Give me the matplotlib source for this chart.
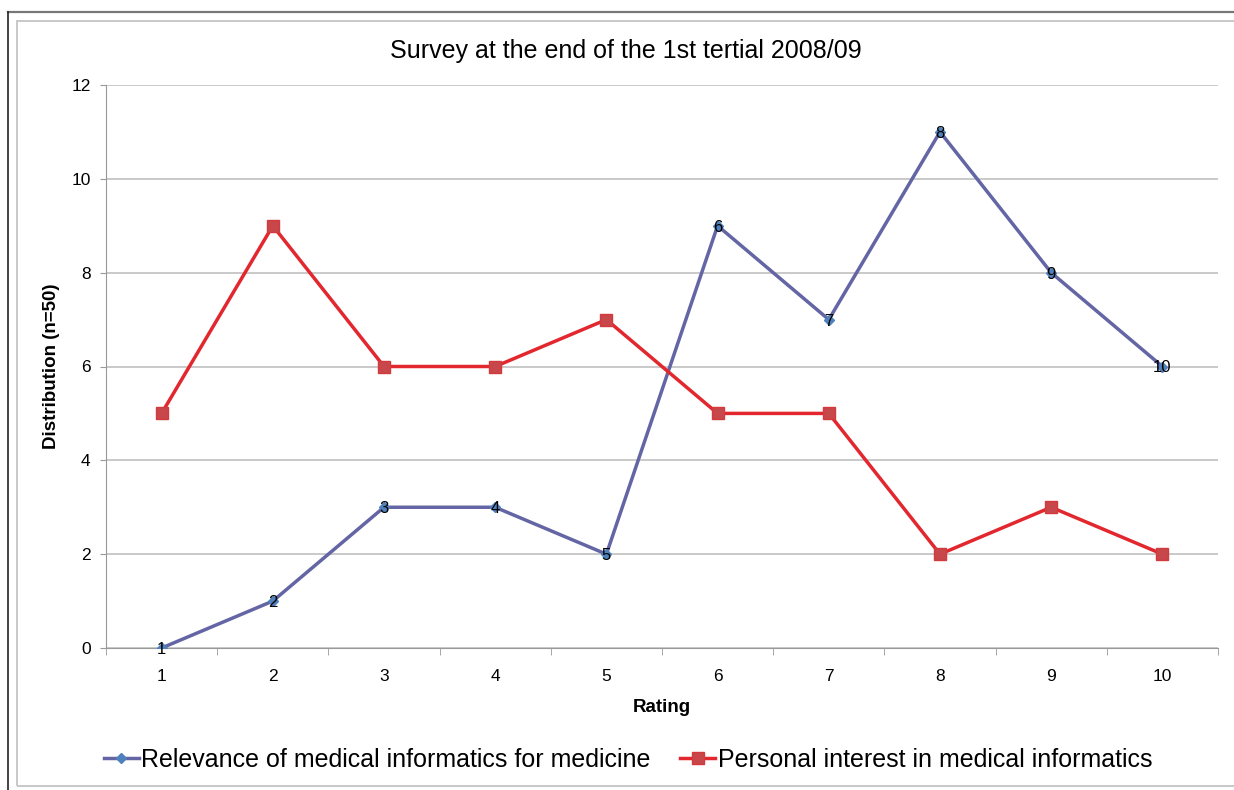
import matplotlib
matplotlib.use("Agg")
import matplotlib.pyplot as plt
from matplotlib.patches import Rectangle
from matplotlib.lines import Line2D

plt.rcParams['font.family'] = ['Liberation Sans', 'DejaVu Sans']

ratings = [1, 2, 3, 4, 5, 6, 7, 8, 9, 10]
relevance = [0, 1, 3, 3, 2, 9, 7, 11, 8, 6]
interest = [5, 9, 6, 6, 7, 5, 5, 2, 3, 2]
point_labels = ['1', '2', '3', '4', '5', '6', '7', '8', '9', '10']

fig = plt.figure(figsize=(12.34, 7.9), dpi=100)

# outer frame lines (chart border, partly cut off)
fig.add_artist(Line2D([8/1234, 1], [1-12/790, 1-12/790], color='#777777', lw=1.6))
fig.add_artist(Line2D([8/1234, 8/1234], [0, 1-12/790], color='#222222', lw=1.2))
fig.add_artist(Rectangle((17/1234, 1-786/790), 1.2, (786-21)/790, fill=False,
                         ec='#c8c8c8', lw=1.4))

ax = fig.add_axes([106/1234, 1-648/790, (1218-106)/1234, (648-85)/790])

ax.plot(ratings, relevance, color='#6465a5', lw=2.5, marker='D', ms=5,
        mfc='#4f81bd', mec='#4f81bd', zorder=3,
        label='Relevance of medical informatics for medicine')
ax.plot(ratings, interest, color='#e2272e', lw=2.5, marker='s', ms=8,
        mfc='#c8474a', mec='#d23a3e', zorder=3,
        label='Personal interest in medical informatics')

for x, y, t in zip(ratings, relevance, point_labels):
    ax.text(x, y, t, ha='center', va='center_baseline', fontsize=12,
            color='black', zorder=4)

ax.set_xlim(0.5, 10.5)
ax.set_ylim(0, 12)
ax.set_yticks(range(0, 13, 2))
ax.set_xticks(ratings)
ax.set_xticks([r + 0.5 for r in [0] + ratings], minor=True)
ax.tick_params(axis='x', which='major', length=0, pad=15, labelsize=12.5)
ax.tick_params(axis='x', which='minor', length=5, color='#999999', direction='out')
ax.tick_params(axis='y', length=4.5, color='#999999', labelsize=12.5, pad=6.5)
ax.yaxis.grid(True, color='#c0c0c0', lw=1.2)
ax.set_axisbelow(True)
for s in ['top', 'right']:
    ax.spines[s].set_visible(False)
ax.spines['left'].set_color('#999999')
ax.spines['bottom'].set_color('#999999')

ax.set_xlabel('Rating', fontsize=13.5, fontweight='bold', labelpad=11)
ax.set_ylabel('Distribution (n=50)', fontsize=13.5, fontweight='bold', labelpad=8)
fig.text(626/1234, 1-51/790, 'Survey at the end of the 1st tertial 2008/09',
         ha='center', va='center', fontsize=18)

fig.legend(loc='center', bbox_to_anchor=(628/1234, 1-760/790), ncol=2,
           frameon=False, fontsize=18, handlelength=1.4, handletextpad=0.1,
           columnspacing=1.2)

fig.savefig('out.png', dpi=100)
